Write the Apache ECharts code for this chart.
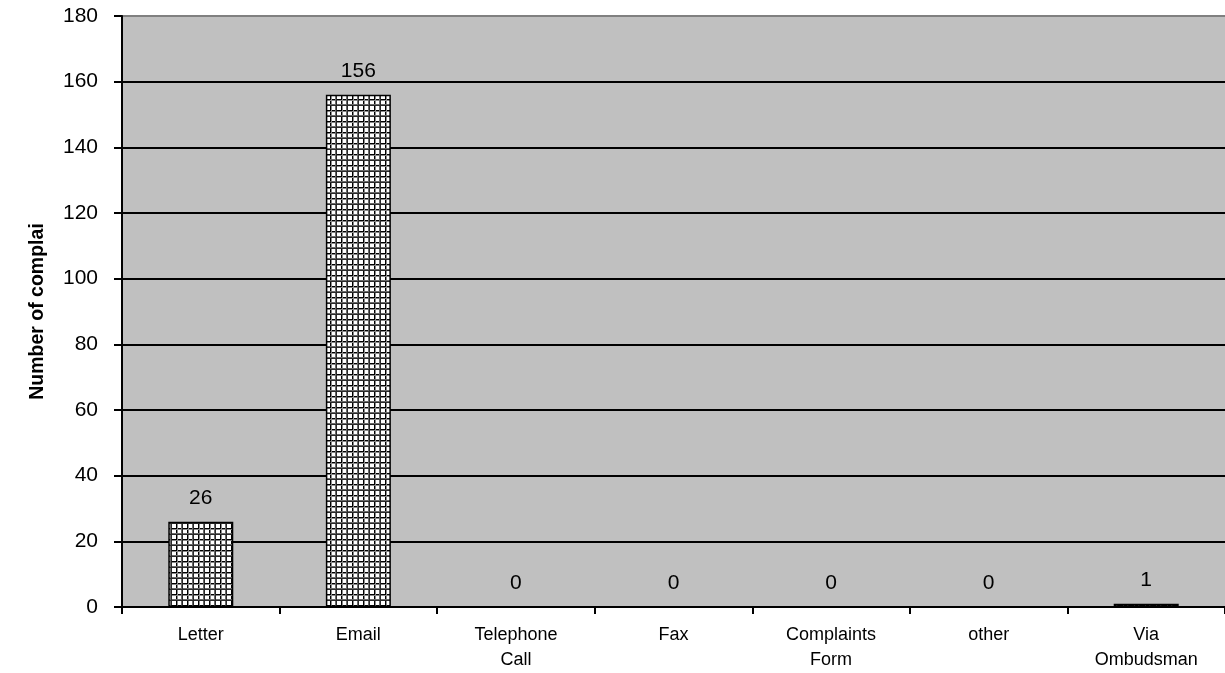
<!DOCTYPE html>
<html>
<head>
<meta charset="utf-8">
<script src="https://cdn.jsdelivr.net/npm/echarts@6/dist/echarts.min.js"></script>
<style>
  html, body { margin: 0; padding: 0; background: #fff; }
  #chart { width: 1225px; height: 673px; }
</style>
</head>
<body>
<div id="chart"></div>
<script>
// Complaints received, by channel
const categories = ['Letter', 'Email', 'Telephone\nCall', 'Fax', 'Complaints\nForm', 'other', 'Via\nOmbudsman'];
const complaints = [26, 156, 0, 0, 0, 0, 1];
const yAxisTitle = 'Number of complai';

// Crosshatch fill tile for the bars (two cells per 11px tile)
function hatchTile() {
  const n = 11;
  const c = document.createElement('canvas');
  c.width = n; c.height = n;
  const g = c.getContext('2d');
  g.fillStyle = '#ffffff';
  g.fillRect(0, 0, n, n);
  const lines = [[0, '#000000'], [1, '#8a8a8a'], [5, '#6a6a6a'], [6, '#2a2a2a']];
  lines.forEach(([p, col]) => {
    g.fillStyle = col;
    g.fillRect(p, 0, 1, n);
    g.fillRect(0, p, n, 1);
  });
  return c;
}

const font = '"Liberation Sans", Arial, sans-serif';
const chart = echarts.init(document.getElementById('chart'), null, { renderer: 'canvas' });

// Grid lines: black for each tick, grey for the top edge at 180
const splitColors = [];
for (let i = 0; i < 9; i++) splitColors.push('#000000');
splitColors.push('#808080');

chart.setOption({
  animation: false,
  backgroundColor: '#ffffff',
  textStyle: { fontFamily: font },
  grid: {
    left: 122, right: 0, top: 16, bottom: 65,
    show: true, backgroundColor: '#c0c0c0', borderWidth: 0
  },
  xAxis: {
    type: 'category',
    data: categories,
    axisLine: { show: true, lineStyle: { color: '#000', width: 2 } },
    axisTick: { show: true, length: 7, alignWithLabel: false, lineStyle: { color: '#000', width: 2 } },
    axisLabel: {
      color: '#000', fontSize: 18, fontFamily: font, margin: 16,
      lineHeight: 25, interval: 0
    },
    splitLine: { show: false }
  },
  yAxis: {
    type: 'value',
    min: 0, max: 180, interval: 20,
    name: yAxisTitle,
    nameLocation: 'middle',
    nameGap: 74,
    nameTextStyle: { color: '#000', fontSize: 19.5, fontWeight: 'bold', fontFamily: font },
    axisLine: { show: true, lineStyle: { color: '#000', width: 2 } },
    axisTick: { show: true, length: 8, lineStyle: { color: '#000', width: 2 } },
    axisLabel: { color: '#000', fontSize: 21, fontFamily: font, margin: 24 },
    splitLine: { show: true, lineStyle: { color: splitColors, width: 2 } }
  },
  series: [{
    type: 'bar',
    data: complaints,
    barWidth: 65,
    itemStyle: {
      color: { image: hatchTile(), repeat: 'repeat' },
      borderColor: '#000',
      borderWidth: 1.5
    },
    label: {
      show: true, position: 'top', distance: 13,
      color: '#000', fontSize: 21, fontFamily: font
    }
  }]
});
</script>
</body>
</html>
